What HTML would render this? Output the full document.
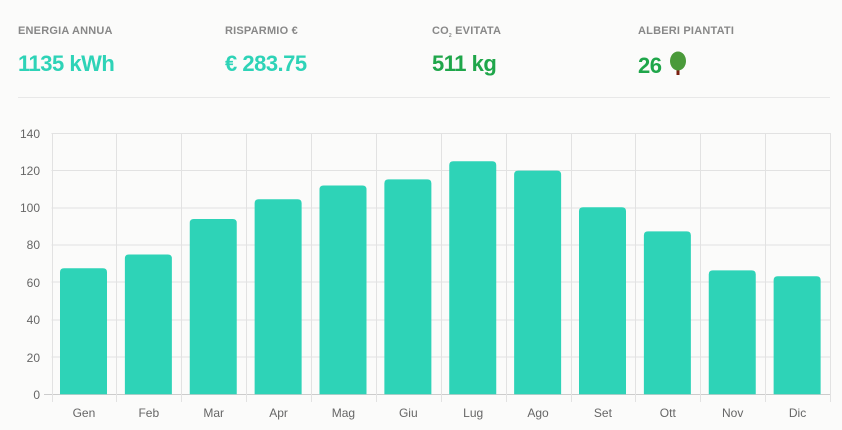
<!DOCTYPE html>
<html><head><meta charset="utf-8"><style>
body{margin:0;width:842px;height:430px;background:#fbfbfa;font-family:"Liberation Sans",sans-serif;overflow:hidden;position:relative}
.k{position:absolute;top:25px;font-size:11px;font-weight:bold;color:#888;letter-spacing:.2px}
.v{position:absolute;top:51px;font-size:22px;font-weight:bold;letter-spacing:-0.5px}
.hr{position:absolute;left:18px;top:97px;width:812px;height:1px;background:#e8e8e8}
</style></head><body>
<div class="k" style="left:18px">ENERGIA ANNUA</div>
<div class="k" style="left:225px">RISPARMIO €</div>
<div class="k" style="left:432px">CO<sub style="font-size:5px">2</sub> EVITATA</div>
<div class="k" style="left:638px">ALBERI PIANTATI</div>
<div class="v" style="left:18px;color:#2ed3b7">1135 kWh</div>
<div class="v" style="left:225px;color:#2ed3b7">€ 283.75</div>
<div class="v" style="left:432px;color:#1fa64a">511 kg</div>
<div class="v" style="left:638px;color:#1fa64a">26 <svg width="22" height="26" viewBox="0 0 22 26" style="vertical-align:-4px"><rect x="9.5" y="16" width="3" height="8" fill="#7a1f10"/><ellipse cx="11" cy="10" rx="8" ry="9.5" fill="#4a9a3a"/></svg></div>
<div class="hr"></div>
<svg width="842" height="430" style="position:absolute;left:0;top:0" font-family="Liberation Sans, sans-serif" font-size="12" fill="#666">
<g stroke="#e2e2e2" stroke-width="1">
<line x1="51.5" y1="133.5" x2="830" y2="133.5"/><line x1="51.5" y1="170.5" x2="830" y2="170.5"/><line x1="51.5" y1="208" x2="830" y2="208"/><line x1="51.5" y1="245" x2="830" y2="245"/><line x1="51.5" y1="282" x2="830" y2="282"/><line x1="51.5" y1="320" x2="830" y2="320"/><line x1="51.5" y1="357" x2="830" y2="357"/>
<line x1="44" y1="394.5" x2="830" y2="394.5" stroke="#ccc"/>
</g>
<g stroke="#e2e2e2" id="vg"></g>
<g id="bars" fill="#2ed3b7"></g>
<g text-anchor="end">
<text x="40" y="138">140</text><text x="40" y="175">120</text><text x="40" y="212">100</text><text x="40" y="249">80</text><text x="40" y="287">60</text><text x="40" y="324">40</text><text x="40" y="362">20</text><text x="40" y="399">0</text>
</g>
<g id="xl" text-anchor="middle"></g>
<script>
var v=[67.6,75,94,104.6,112,115.3,125,120,100.3,87.4,66.5,63.3],m=["Gen","Feb","Mar","Apr","Mag","Giu","Lug","Ago","Set","Ott","Nov","Dic"];
var w=64.875,x0=51.5,s=261/140,ns="http://www.w3.org/2000/svg";
function el(t,a,p){var e=document.createElementNS(ns,t);for(var k in a)e.setAttribute(k,a[k]);document.getElementById(p).appendChild(e);return e;}
for(var i=0;i<=12;i++){var x=Math.round(x0+i*w)+0.5;el("line",{x1:x,y1:133,x2:x,y2:402},"vg");}
for(var i=0;i<12;i++){var h=v[i]*s,x=x0+i*w+8.5;el("path",{d:"M"+x+" 394.3V"+(394.3-h+4)+"q0-4 4-4h39q4 0 4 4V394.3Z"},"bars");
var t=el("text",{x:x0+i*w+w/2,y:417},"xl");t.textContent=m[i];}
</script>
</svg>
</body></html>
